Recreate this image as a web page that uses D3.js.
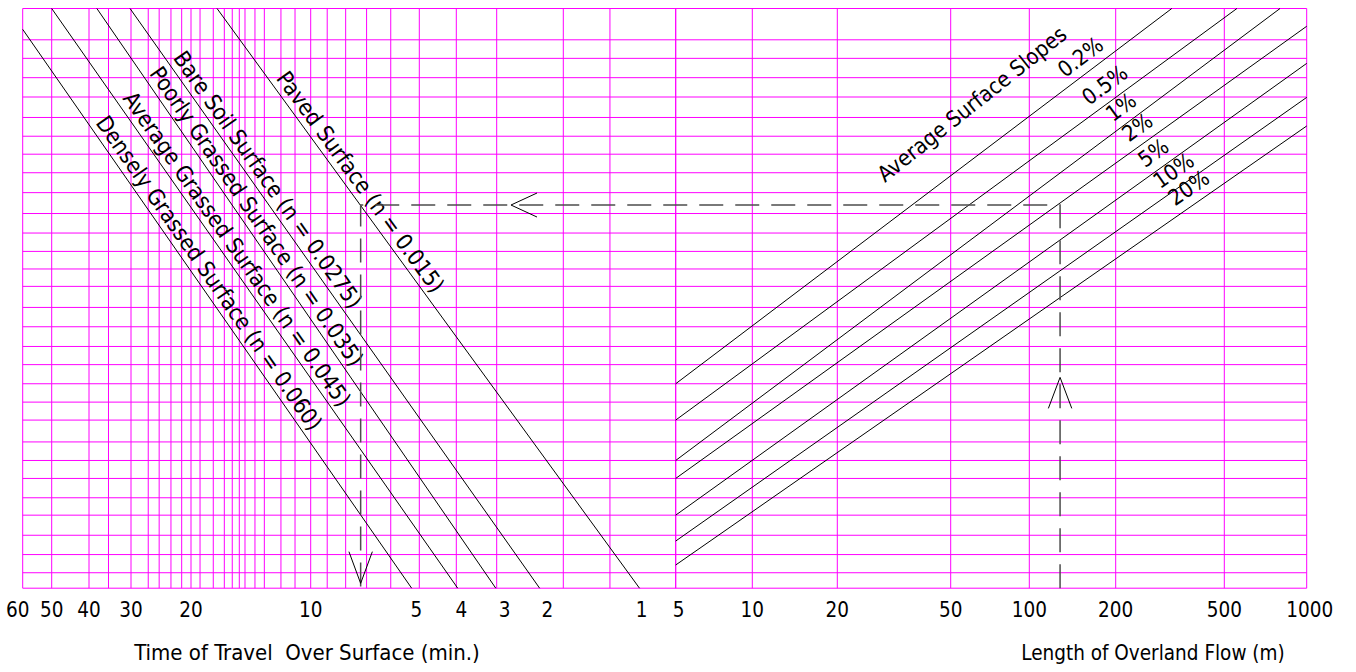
<!DOCTYPE html>
<html>
<head>
<meta charset="utf-8">
<script src="https://cdn.jsdelivr.net/npm/d3@7"></script>
<style>
  body { margin: 0; background: #fff; }
  svg { display: block; }
  text { font-family: "DejaVu Sans Condensed", "DejaVu Sans", sans-serif; fill: #000; }
</style>
</head>
<body>
<svg id="chart" width="1356" height="672"></svg>
<script>
// time of travel axis (left half), minutes
const timeTicks = [60, 50, 40, 30, 20, 10, 5, 4, 3, 2, 1];
const timeGrid = [60, 50, 40, 35, 30, 26.7, 24.8, 22.9, 21.3, 20, 18.98, 17.58, 16.49, 15.75, 15.12,
  14.63, 13.81, 13.08, 11.88, 10.95, 10, 9, 8, 7, 6, 5, 4, 3, 2, 1.5, 1];

// length of overland flow axis (right half), metres
const lengthTicks = [5, 10, 20, 50, 100, 200, 500, 1000];

// unlabelled vertical turning scale, grid units
const levelGrid = [0, 0.80, 1.74, 2.74, 3.78, 4.68, 5.68, 6.61, 7.57, 8.70, 9.63, 10.58, 11.57, 12.51,
  13.53, 14.53, 15.62, 16.52, 17.43, 18.38, 19.39, 20.47, 21.50, 22.46, 23.39, 24.36, 25.42, 26.42,
  27.42, 28.38, 30];

// surface roughness lines
const surfaces = ['Densely Grassed Surface (n = 0.060)', 'Average Grassed Surface (n = 0.045)',
  'Poorly Grassed Surface (n = 0.035)', 'Bare Soil Surface (n = 0.0275)', 'Paved Surface (n = 0.015)'];
const surfaceTopT = [60, 50, 37.9, 30.2, 17.2];
const surfaceTopLevel = [28.92, 30, 30, 30, 30];
const surfaceEndT = [5.25, 3.96, 3.02, 2.31, 1.25];

// average surface slope lines, start at L = 5 m
const slopes = ['0.2%', '0.5%', '1%', '2%', '5%', '10%', '20%'];
const slopeStartLevel = [10.58, 8.70, 6.61, 5.68, 3.78, 2.44, 1.20];
const slopeEndL = [321, 556, 799, 1000, 1000, 1000, 1000];
const slopeEndLevel = [30, 30, 30, 29.08, 27.16, 25.40, 23.92];

// worked example (dashed path)
const exampleL = 128;
const exampleT = 7.27;
const exampleLevel = 19.83;

const svg = d3.select('#chart');
const plotLeft = 22.7, plotMid = 675.7, plotRight = 1306.7, plotTop = 8.5, plotBottom = 588.2;

const xTime = d3.scaleLog().domain(timeTicks)
  .range([plotLeft, 51.7, 89, 131, 191, 310.7, 419.3, 456.3, 496.7, 563.3, plotMid]);
const xLen = d3.scaleLog().domain(lengthTicks)
  .range([plotMid, 752.3, 837.3, 950.7, 1029.3, 1115.7, 1224.3, plotRight]);
const y = d3.scaleLinear().domain([0, 30]).range([plotBottom, plotTop]);

// grid
const grid = svg.append('g').attr('stroke', '#ff00ff').attr('stroke-width', 1);
grid.selectAll('line.h').data(levelGrid).join('line').attr('class', 'h')
  .attr('x1', plotLeft).attr('x2', plotRight)
  .attr('y1', d => y(d)).attr('y2', d => y(d));
grid.selectAll('line.vt').data(timeGrid).join('line').attr('class', 'vt')
  .attr('x1', d => xTime(d)).attr('x2', d => xTime(d))
  .attr('y1', y(0)).attr('y2', y(30));
grid.selectAll('line.vl').data(lengthTicks).join('line').attr('class', 'vl')
  .attr('x1', d => xLen(d)).attr('x2', d => xLen(d))
  .attr('y1', y(0)).attr('y2', y(30));

// surface lines + rotated labels
const alongStart = [118, 114, 83, 65, 91];
surfaces.forEach((name, i) => {
  const x1 = xTime(surfaceTopT[i]), y1 = y(surfaceTopLevel[i]);
  const x2 = xTime(surfaceEndT[i]), y2 = y(0);
  svg.append('line').attr('x1', x1).attr('y1', y1).attr('x2', x2).attr('y2', y2)
    .attr('stroke', '#000').attr('stroke-width', 1);
  const len = Math.hypot(x2 - x1, y2 - y1);
  const dx = (x2 - x1) / len, dy = (y2 - y1) / len;
  const ang = Math.atan2(dy, dx) * 180 / Math.PI;
  const px = x1 + alongStart[i] * dx + 6 * dy;
  const py = y1 + alongStart[i] * dy - 6 * dx;
  svg.append('text').attr('transform', `translate(${px},${py}) rotate(${ang})`)
    .style('font-size', '22.5px').text(name);
});

// slope lines + labels
const pctLabelX = [1065, 1089, 1113, 1129, 1145, 1160, 1175];
slopes.forEach((name, i) => {
  const x1 = xLen(5), y1 = y(slopeStartLevel[i]);
  const x2 = xLen(slopeEndL[i]), y2 = y(slopeEndLevel[i]);
  svg.append('line').attr('x1', x1).attr('y1', y1).attr('x2', x2).attr('y2', y2)
    .attr('stroke', '#000').attr('stroke-width', 1);
  const k = (y2 - y1) / (x2 - x1);
  const ang = Math.atan(k) * 180 / Math.PI;
  const lx = pctLabelX[i];
  const ly = y1 + k * (lx - x1) - 11;
  svg.append('text').attr('transform', `translate(${lx},${ly}) rotate(${ang})`)
    .style('font-size', '22px').text(name);
});
svg.append('text').attr('transform', 'translate(885,183) rotate(-38.5)')
  .style('font-size', '22px').text('Average Surface Slopes');

// worked example: dashed path and open arrowheads
const ex = svg.append('g').attr('fill', 'none');
const exPath = [[xLen(exampleL), y(0)], [xLen(exampleL), y(exampleLevel)],
  [xTime(exampleT), y(exampleLevel)], [xTime(exampleT), y(0)]];
ex.append('path').attr('d', d3.line()(exPath))
  .attr('stroke', '#4d4d4d').attr('stroke-width', 1.5).attr('stroke-dasharray', '24,12');
const arrow = (tx, ty, w1, w2) => ex.append('path')
  .attr('d', d3.line()([[tx + w1[0], ty + w1[1]], [tx, ty], [tx + w2[0], ty + w2[1]]]))
  .attr('stroke', '#000').attr('stroke-width', 1);
arrow(xLen(exampleL), y(10.91), [-11.7, 31], [11.7, 31]);
arrow(xTime(2.75), y(exampleLevel), [26, -12], [26, 12]);
arrow(xTime(exampleT), y(0.25), [-11.7, -31.7], [11.7, -31.7]);

// tick labels
const tickNudge = { 60: -5, 5: -3, 4: 5, 3: 8, 2: -16, 1: -34 };
svg.selectAll('text.tt').data(timeTicks).join('text').attr('class', 'tt')
  .attr('x', d => xTime(d) + (tickNudge[d] || 0)).attr('y', 617)
  .attr('text-anchor', 'middle').style('font-size', '20.5px').text(d => d);
svg.selectAll('text.lt').data(lengthTicks).join('text').attr('class', 'lt')
  .attr('x', d => xLen(d) + (d === 5 ? 3 : d === 1000 ? 3 : 0)).attr('y', 617)
  .attr('text-anchor', 'middle').style('font-size', '20.5px').text(d => d);

// axis titles
svg.append('text').attr('x', 307).attr('y', 660).attr('text-anchor', 'middle')
  .style('font-size', '22px').style('white-space', 'pre')
  .text('Time of Travel  Over Surface (min.)');
svg.append('text').attr('x', 1153).attr('y', 660).attr('text-anchor', 'middle')
  .style('font-size', '20.5px').text('Length of Overland Flow (m)');
</script>
</body>
</html>
